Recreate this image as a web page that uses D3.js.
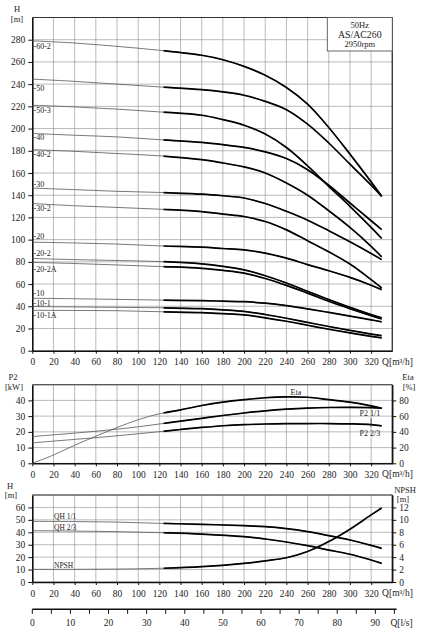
<!DOCTYPE html>
<html><head><meta charset="utf-8">
<script src="https://cdn.jsdelivr.net/npm/d3@7"></script>
<style>
body{margin:0;background:#fff}
text{font-family:"Liberation Serif","DejaVu Serif",serif;fill:#222}
</style>
</head><body>
<svg id="c" width="436" height="639"></svg>
<script>
// ---------- DATA ----------
const qHead = [0,40,80,120,160,180,200,220,240,260,280,300,320,330];
const curveNames = ["-60-2","-50","-50-3","-40","-40-2","-30","-30-2","-20","-20-2","-20-2A","-10","-10-1","-10-1A"];
const h60_2  = [279,277,274,270.5,266,262,256,248,237,222,201,177,152,139];
const h50    = [244.5,242.5,240,237.5,235,233,230,224.5,217,204,187,168,149,139];
const h50_3  = [221,219.5,217.5,215,212,208,203,195,183,166.5,148,130,111,101];
const h40    = [195.6,194,192.5,190,187.5,185.5,183,179,173,163,149,133,117,109];
const h40_2  = [181,179.5,177.5,175.5,172,169,165.5,160,151,140,126,111,94,84.5];
const h30    = [146.4,145,143.5,142.5,141,139.5,137.5,132.5,125.5,117.5,108,98,87.5,82];
const h30_2  = [132.5,130.5,129,127.4,125.3,123,120.8,116.3,108.8,99,89,78,64,56.5];
const h20    = [97.7,97,96,94.4,93.2,92,90.8,87.8,83.3,77.5,72,66,59,55];
const h20_2  = [83,82,81.2,80.3,78.2,76,72.8,67.5,61,53.5,46,39,32.5,29.5];
const h20_2A = [79.5,78.5,77.2,75.8,74.2,72.3,69.8,65,58.8,51.8,44.5,37.8,31.5,28.5];
const h10    = [47.2,46.8,46.2,45.6,45,44.6,44.1,42.8,40.6,37.7,34.5,31.2,27.8,26];
const h10_1  = [39.7,39.4,39,38.7,37.8,36.8,35.4,32.6,29.2,25.5,21.8,18.3,15,13.5];
const h10_1A = [36.4,36.2,36,35.1,34.3,33.4,32.2,29.6,26.5,22.9,19.3,16,12.9,11.5];

const qPow = [0,20,40,60,80,100,120,140,160,180,200,220,240,260,280,300,320,330];
const eta   = [0,10.5,23,34.5,45.5,55.5,63,68,73.5,77.8,80.9,83.4,84.6,84,81,77.8,73,70];
const p2_11 = [17,18.1,19.2,20.4,21.7,23.2,25,26.8,28.6,30.4,32,33.4,34.4,35.1,35.5,35.6,35.4,35.1];
const p2_23 = [13,14.1,15.2,16.3,17.5,18.8,20.1,21.5,22.8,23.9,24.6,25,25.2,25.3,25.3,25.1,24.6,23.8];

const qNp = [0,40,80,120,160,200,220,240,260,280,300,320,330];
const qh11 = [48.8,48.6,48.2,47.2,46.4,45.3,44.5,42.9,40.5,37.3,33.8,29.5,27.1];
const qh23 = [41.3,41,40.5,39.7,38.6,36.5,34.6,32.2,29.2,25.7,22.3,17.7,15];
const npsh = [2.04,2.04,2.08,2.2,2.46,3.0,3.4,3.9,4.9,6.5,8.5,10.8,11.9];

const headTicks = d3.range(0,281,20);
const qTicks = d3.range(0,321,20);
const p2Ticks = [0,10,20,30,40];
const etaTicks = [0,20,40,60,80];
const hTicks = [0,10,20,30,40,50,60];
const npshTicks = [0,2,4,6,8,10,12];
const lsTicks = d3.range(0,91,10);
const legendLines = ["50Hz","AS/AC260","2950rpm"];

// ---------- DRAW ----------
const svg = d3.select("#c");
const x = d3.scaleLinear().domain([0,340]).range([32.3,392.3]);
const qThick = 124;
const gridC = "#8c8c8c";

svg.append("defs").append("clipPath").attr("id","thick")
  .append("rect").attr("x",x(qThick)).attr("y",0).attr("width",436-x(qThick)).attr("height",639);

function frame(y, gridVals, leftTicks, yR, rightTicks) {
  const g = svg.append("g");
  const [y0,y1] = y.range();
  g.selectAll(".gv").data(d3.range(20,341,20)).join("line")
    .attr("x1",d=>x(d)).attr("x2",d=>x(d)).attr("y1",y0).attr("y2",y1)
    .attr("stroke",gridC).attr("stroke-width",0.6);
  g.selectAll(".gh").data(gridVals).join("line")
    .attr("x1",x(0)).attr("x2",x(340)).attr("y1",d=>y(d)).attr("y2",d=>y(d))
    .attr("stroke",gridC).attr("stroke-width",0.6);
  g.append("line").attr("x1",x(0)).attr("x2",x(340)).attr("y1",y1).attr("y2",y1).attr("stroke","#333").attr("stroke-width",1.1);
  g.append("line").attr("x1",x(340)).attr("x2",x(340)).attr("y1",y0).attr("y2",y1).attr("stroke","#333").attr("stroke-width",1.3);
  const ax = g.append("g").attr("transform",`translate(${x(0)},0)`)
    .call(d3.axisLeft(y).tickValues(leftTicks).tickSize(4).tickSizeOuter(0).tickPadding(3));
  ax.select(".domain").attr("stroke","#111").attr("stroke-width",1.6);
  const bx = g.append("g").attr("transform",`translate(0,${y0})`)
    .call(d3.axisBottom(x).tickValues(qTicks).tickSize(3).tickSizeOuter(0).tickPadding(5));
  bx.select(".domain").attr("stroke","#111").attr("stroke-width",1.6);
  [ax,bx].forEach(a=>{a.selectAll("text").style("font-family",'"Liberation Serif",serif').style("font-size","9.5px").attr("fill","#222");
    a.selectAll(".tick line").attr("stroke","#111");});
  if (yR) {
    const rx = g.append("g").attr("transform",`translate(${x(340)},0)`)
      .call(d3.axisRight(yR).tickValues(rightTicks).tickSize(4).tickSizeOuter(0).tickPadding(3));
    rx.select(".domain").attr("stroke","#111").attr("stroke-width",1.3);
    rx.selectAll("text").style("font-family",'"Liberation Serif",serif').style("font-size","9.5px").attr("fill","#222");
    rx.selectAll(".tick line").attr("stroke","#111");
  }
  g.append("text").attr("x",x(320)+11).attr("y",y0+14).attr("font-size","9.5px").text("Q[m³/h]");
  return g;
}

function curve(qs, vals, y) {
  const ln = d3.line().x((d,i)=>x(qs[i])).y(d=>y(d)).curve(d3.curveCatmullRom.alpha(0.5));
  svg.append("path").attr("d",ln(vals)).attr("fill","none").attr("stroke","#555").attr("stroke-width",0.8);
  svg.append("path").attr("d",ln(vals)).attr("fill","none").attr("stroke","#000").attr("stroke-width",1.7)
    .attr("clip-path","url(#thick)");
}

// ---- top chart ----
const yTop = d3.scaleLinear().domain([0,300]).range([350.7,17.5]);
frame(yTop, d3.range(0,301,20), headTicks);
svg.append("text").attr("x",17).attr("y",12).attr("text-anchor","middle").attr("font-size","8.5px").text("H");
svg.append("text").attr("x",17).attr("y",22).attr("text-anchor","middle").attr("font-size","8.5px").text("[m]");

const headSeries = [h60_2,h50,h50_3,h40,h40_2,h30,h30_2,h20,h20_2,h20_2A,h10,h10_1,h10_1A];
const labelOff = [5.3,9.7,5.3,4.3,5,-3.3,5,-6.3,-5,6.7,-4.5,-3.3,5.3];
headSeries.forEach((vals,i)=>{
  curve(qHead, vals, yTop);
  svg.append("text").attr("x",33.5).attr("y",yTop(vals[0])+labelOff[i]).attr("dy","0.33em")
    .attr("font-size","8px").text(curveNames[i]);
});
// legend box
svg.append("rect").attr("x",327.3).attr("y",yTop(300)).attr("width",x(340)-327.3).attr("height",51-yTop(300))
  .attr("fill","#fff").attr("stroke","#555").attr("stroke-width",0.9);
const lgX = (327.3+x(340))/2;
svg.append("text").attr("x",lgX).attr("y",27.5).attr("text-anchor","middle").attr("font-size","8.5px").text(legendLines[0]);
svg.append("text").attr("x",lgX).attr("y",37.5).attr("text-anchor","middle").attr("font-size","9.8px").text(legendLines[1]);
svg.append("text").attr("x",lgX).attr("y",46.5).attr("text-anchor","middle").attr("font-size","8.5px").text(legendLines[2]);

// ---- middle chart ----
const yP = d3.scaleLinear().domain([0,50]).range([463.3,384.7]);
const yEta = d3.scaleLinear().domain([0,100]).range([463.3,384.7]);
frame(yP, d3.range(0,51,10), p2Ticks, yEta, etaTicks);
svg.append("text").attr("x",13).attr("y",380).attr("text-anchor","middle").attr("font-size","8.5px").text("P2");
svg.append("text").attr("x",14).attr("y",389.5).attr("text-anchor","middle").attr("font-size","8.5px").text("[kW]");
svg.append("text").attr("x",408).attr("y",380).attr("text-anchor","middle").attr("font-size","8.5px").text("Eta");
svg.append("text").attr("x",409).attr("y",389.5).attr("text-anchor","middle").attr("font-size","8.5px").text("[%]");
curve(qPow, eta, yEta);
curve(qPow, p2_11, yP);
curve(qPow, p2_23, yP);
svg.append("text").attr("x",x(249)).attr("y",395).attr("text-anchor","middle").attr("font-size","8px").text("Eta");
svg.append("text").attr("x",x(309)).attr("y",415.5).attr("font-size","8px").text("P2 1/1");
svg.append("text").attr("x",x(309)).attr("y",435.5).attr("font-size","8px").text("P2 2/3");
svg.append("line").attr("x1",x(320)).attr("x2",x(320)).attr("y1",418.3).attr("y2",426.7).attr("stroke","#333").attr("stroke-width",0.8);

// ---- bottom chart ----
const yH = d3.scaleLinear().domain([0,70]).range([582,495]);
const yN = d3.scaleLinear().domain([0,14]).range([582,495]);
frame(yH, d3.range(0,71,10), hTicks, yN, npshTicks);
svg.append("text").attr("x",10).attr("y",489).attr("text-anchor","middle").attr("font-size","8.5px").text("H");
svg.append("text").attr("x",11).attr("y",497.5).attr("text-anchor","middle").attr("font-size","8.5px").text("[m]");
svg.append("text").attr("x",405).attr("y",492.5).attr("text-anchor","middle").attr("font-size","8.5px").text("NPSH");
svg.append("text").attr("x",403).attr("y",501.5).attr("text-anchor","middle").attr("font-size","8.5px").text("[m]");
curve(qNp, qh11, yH);
curve(qNp, qh23, yH);
curve(qNp, npsh, yN);
svg.append("text").attr("x",54).attr("y",518.5).attr("font-size","7.5px").text("QH 1/1");
svg.append("text").attr("x",54).attr("y",529.5).attr("font-size","7.5px").text("QH 2/3");
svg.append("text").attr("x",54).attr("y",567.5).attr("font-size","7.5px").text("NPSH");

// ---- Q [l/s] axis ----
const xls = d3.scaleLinear().domain([0,95]).range([x(0), x(95*3.6)]);
const lg = svg.append("g").attr("transform","translate(0,609.3)");
lg.append("line").attr("x1",x(0)).attr("x2",396.7).attr("stroke","#111").attr("stroke-width",1.6);
lg.selectAll(".t").data(d3.range(0,96,5)).join("line")
  .attr("x1",d=>xls(d)).attr("x2",d=>xls(d)).attr("y1",0).attr("y2",4.5).attr("stroke","#111").attr("stroke-width",1);
lg.selectAll(".l").data(lsTicks).join("text").attr("x",d=>xls(d)).attr("y",17).attr("text-anchor","middle")
  .attr("font-size","9.5px").text(d=>d);
lg.append("text").attr("x",390.5).attr("y",17).attr("font-size","9.5px").text("Q[l/s]");
</script>
</body></html>
